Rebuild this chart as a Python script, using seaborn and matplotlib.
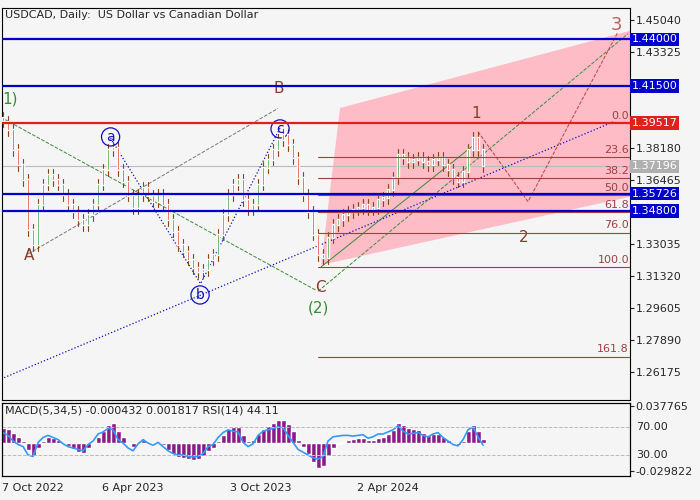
import numpy as np
import pandas as pd
import seaborn as sns
import matplotlib.pyplot as plt
from matplotlib.patches import Polygon

# weekly closes (USDCAD)
closes = [1.3960, 1.3914, 1.3807, 1.3727, 1.3646, 1.3378, 1.3298, 1.3512, 1.3620, 1.3673,
          1.3646, 1.3620, 1.3566, 1.3512, 1.3475, 1.3432, 1.3405, 1.3459, 1.3512, 1.3620,
          1.3700, 1.3807, 1.3818, 1.3700, 1.3636, 1.3561, 1.3496, 1.3566, 1.3604, 1.3561,
          1.3529, 1.3566, 1.3512, 1.3432, 1.3368, 1.3298, 1.3261, 1.3218, 1.3175, 1.3153,
          1.3164, 1.3218, 1.3244, 1.3352, 1.3459, 1.3566, 1.3620, 1.3646, 1.3539, 1.3486,
          1.3512, 1.3620, 1.3711, 1.3754, 1.3807, 1.3861, 1.3888, 1.3834, 1.3764, 1.3657,
          1.3566, 1.3475, 1.3352, 1.3244, 1.3228, 1.3336, 1.3405, 1.3432, 1.3459, 1.3475,
          1.3486, 1.3496, 1.3512, 1.3486, 1.3496, 1.3539, 1.3550, 1.3593, 1.3657, 1.3780,
          1.3764, 1.3743, 1.3754, 1.3764, 1.3743, 1.3727, 1.3754, 1.3764, 1.3727, 1.3700,
          1.3657, 1.3636, 1.3689, 1.3807, 1.3872, 1.3807, 1.3720]

macd_hist = [0.015, 0.014, 0.010, 0.006, 0.002, -0.008, -0.014, -0.006, 0.002, 0.006,
             0.005, 0.003, 0.000, -0.004, -0.007, -0.010, -0.011, -0.006, -0.002, 0.006,
             0.012, 0.018, 0.020, 0.012, 0.006, 0.000, -0.005, 0.000, 0.003, 0.001,
             -0.002, 0.000, -0.003, -0.008, -0.012, -0.015, -0.016, -0.017, -0.018, -0.017,
             -0.014, -0.009, -0.006, 0.002, 0.008, 0.014, 0.016, 0.016, 0.008, 0.002,
             0.003, 0.009, 0.014, 0.017, 0.020, 0.023, 0.024, 0.019, 0.012, 0.003,
             -0.005, -0.012, -0.020, -0.026, -0.024, -0.014, -0.006, -0.002, 0.001, 0.003,
             0.004, 0.005, 0.005, 0.003, 0.003, 0.005, 0.006, 0.009, 0.013, 0.020,
             0.018, 0.015, 0.014, 0.013, 0.010, 0.008, 0.009, 0.009, 0.006, 0.003,
             -0.001, -0.003, 0.002, 0.012, 0.018, 0.012, 0.004]

rsi = [62, 58, 50, 45, 42, 30, 28, 48, 55, 58, 55, 52, 46, 42, 40, 38, 36, 45, 50, 60,
       63, 68, 66, 52, 47, 40, 36, 46, 52, 47, 44, 48, 42, 36, 32, 30, 30, 28, 27, 28,
       32, 42, 45, 55, 62, 66, 64, 63, 48, 42, 46, 58, 64, 66, 68, 70, 69, 58, 48, 38,
       34, 30, 26, 24, 28, 50, 56, 57, 58, 58, 57, 58, 59, 54, 56, 60, 60, 63, 66, 72,
       64, 60, 61, 62, 58, 56, 60, 62, 55, 50, 45, 43, 52, 66, 70, 56, 44]

h_blue = [1.44000, 1.41500, 1.35726, 1.34800]
h_red = 1.39517
last_price = 1.37196
fib_levels = [0.0, 23.6, 38.2, 50.0, 61.8, 76.0, 100.0, 161.8]
fib_high, fib_low = 1.39517, 1.31780
right_ticks = [1.45040, 1.43325, 1.38180, 1.36465, 1.33035, 1.31320, 1.29605, 1.27890, 1.26175]
date_pos = [-0.2, 26, 51.6, 77]
date_labels = ['7 Oct 2022', '6 Apr 2023', '3 Oct 2023', '2 Apr 2024']

# pink channel (week index, price)
channel_x = [63.6, 67.4, 126.0, 126.0]
channel_y = [1.3191, 1.4032, 1.4450, 1.3560]

sns.set_style('white')
plt.rcParams['font.family'] = ['DejaVu Sans']
bg = '#f5f5f5'
fig = plt.figure(figsize=(7, 5), dpi=100, facecolor=bg)
ax = fig.add_axes([0.003, 0.2, 0.897, 0.784], facecolor=bg)
ax2 = fig.add_axes([0.003, 0.048, 0.897, 0.146], facecolor=bg)

n = len(closes)
xs = np.arange(n)
ax.add_patch(Polygon(list(zip(channel_x, channel_y)), closed=True, color='#ffb6c1', alpha=0.9, lw=0, zorder=1))

opens = [closes[0] + 0.002] + closes[:-1]
for i in range(n):
    o, c = opens[i], closes[i]
    col = '#2e8b2e' if c >= o else '#e0201b'
    ax.plot([i, i], [min(o, c) - 0.003, max(o, c) + 0.003], color='#8b4513', lw=0.8, zorder=3)
    ax.bar(i, abs(c - o) + 0.0005, bottom=min(o, c), width=0.55, color=col, zorder=4)

for y in h_blue:
    ax.axhline(y, color='#0000cc', lw=1.6, zorder=5)
ax.axhline(h_red, color='#e0201b', lw=1.6, zorder=5)
ax.axhline(last_price, color='#bbbbbb', lw=0.8, zorder=2)

fib_col = '#a0403f'
rng = fib_high - fib_low
for lv in fib_levels:
    y = fib_high - rng * lv / 100
    if lv > 0:
        ax.plot([63, 125.4], [y, y], color=fib_col, lw=0.8, zorder=5)
    ax.text(125.2, y + 0.0012, f'{lv:.1f}', ha='right', va='bottom', fontsize=8, color=fib_col, zorder=6)

# wave lines
ax.plot([0.4, 62.6], [1.3970, 1.3055], ls='--', color='#3a8a3a', lw=0.7)
ax.plot([5, 55], [1.3250, 1.4030], ls='--', color='#777777', lw=0.7)
ax.plot([21.5, 39.5, 55.5], [1.3870, 1.3090, 1.3930], ls=':', color='#1010c0', lw=0.9)
ax.plot([-0.4, 122], [1.2580, 1.3957], ls=':', color='#1010c0', lw=0.9)
ax.plot([63, 125], [1.3050, 1.4430], ls='--', color='#3a8a3a', lw=0.7)
ax.plot([63.6, 94], [1.3180, 1.3830], color='#3a8a3a', lw=0.7)
ax.plot([95, 105, 123], [1.3905, 1.3530, 1.4440], ls='--', color='#c04040', lw=0.7)

txt = dict(fontsize=11, ha='center', va='center')
ax.text(-0.2, 1.4080, '1)', color='#3a8a3a', fontsize=11, ha='left', va='center')
ax.text(5.2, 1.3240, 'A', color='#8b3a2b', **txt)
ax.text(55.2, 1.4137, 'B', color='#8b3a2b', **txt)
ax.text(63.5, 1.3070, 'C', color='#8b3a2b', **txt)
ax.text(63, 1.2960, '(2)', color='#3a8a3a', **txt)
ax.text(94.6, 1.4000, '1', color='#8b3a2b', **txt)
ax.text(104.2, 1.3340, '2', color='#8b3a2b', **txt)
ax.text(122.6, 1.4475, '3', color='#c06060', fontsize=13, ha='center', va='center')
for lx, ly, s in [(21.5, 1.3877, 'a'), (39.4, 1.3030, 'b'), (55.4, 1.3920, 'c')]:
    ax.text(lx, ly, s, color='#1010c0', fontsize=10, ha='center', va='center',
            bbox=dict(boxstyle='circle,pad=0.15', fc='none', ec='#1010c0', lw=0.9))

ax.set_xlim(-0.2, 125.4)
ax.set_ylim(1.2467, 1.4568)
ax.set_xticks([])
ax.yaxis.tick_right()
ax.set_yticks(right_ticks)
ax.set_yticklabels([f'{t:.5f}' for t in right_ticks], fontsize=8)
ax.tick_params(axis='y', length=3, pad=1)
for s in ax.spines.values():
    s.set_color('black'); s.set_linewidth(0.8)
for y, fc in [(1.44, '#0000cc'), (1.415, '#0000cc'), (h_red, '#e0201b'),
              (last_price, '#b0b0b0'), (1.35726, '#0000cc'), (1.348, '#0000cc')]:
    ax.text(1.003, y, f'{y:.5f}', transform=ax.get_yaxis_transform(), fontsize=8, color='white',
            va='center', ha='left', bbox=dict(boxstyle='square,pad=0.15', fc=fc, ec='none'))
ax.text(0.005, 0.995, 'USDCAD, Daily:  US Dollar vs Canadian Dollar', transform=ax.transAxes,
        fontsize=8, va='top', ha='left')

# MACD / RSI panel
df = pd.DataFrame({'x': xs, 'macd': macd_hist, 'rsi': rsi})
ax2.bar(df['x'], df['macd'], width=1.0, color='#8b1a89')
ax2.set_ylim(-0.0348, 0.0412)
ax2.set_xlim(-0.2, 125.4)
ax3 = ax2.twinx()
sns.lineplot(data=df, x='x', y='rsi', ax=ax3, color='#3399ff', lw=1.2)
ax3.set_ylim(0, 104.3)
ax3.axhline(70, color='#bbbbbb', ls='--', lw=0.7)
ax3.axhline(30, color='#bbbbbb', ls='--', lw=0.7)
ax3.set_ylabel('')
ax3.set_xlabel('')
ax3.set_yticks([])
ax2.yaxis.tick_right()
ax2.set_yticks([0.037765, -0.029822])
ax2.set_yticklabels(['0.037765', '-0.029822'], fontsize=8)
for y, s in [(70, '70.00'), (30, '30.00')]:
    ax3.text(1.01, y, s, transform=ax3.get_yaxis_transform(), fontsize=8, va='center')
ax2.tick_params(axis='y', length=3, pad=1)
ax2.set_xticks(date_pos)
ax2.set_xticklabels(date_labels, fontsize=8)
ax2.get_xticklabels()[0].set_ha('left')
ax2.tick_params(axis='x', length=3, pad=2)
ax2.text(0.005, 0.97, 'MACD(5,34,5) -0.000432 0.001817 RSI(14) 44.11', transform=ax2.transAxes,
         fontsize=8, va='top', ha='left', zorder=10)
for a in (ax2, ax3):
    for s in a.spines.values():
        s.set_color('black'); s.set_linewidth(0.8)

fig.savefig('out.png', dpi=100, facecolor=bg)
